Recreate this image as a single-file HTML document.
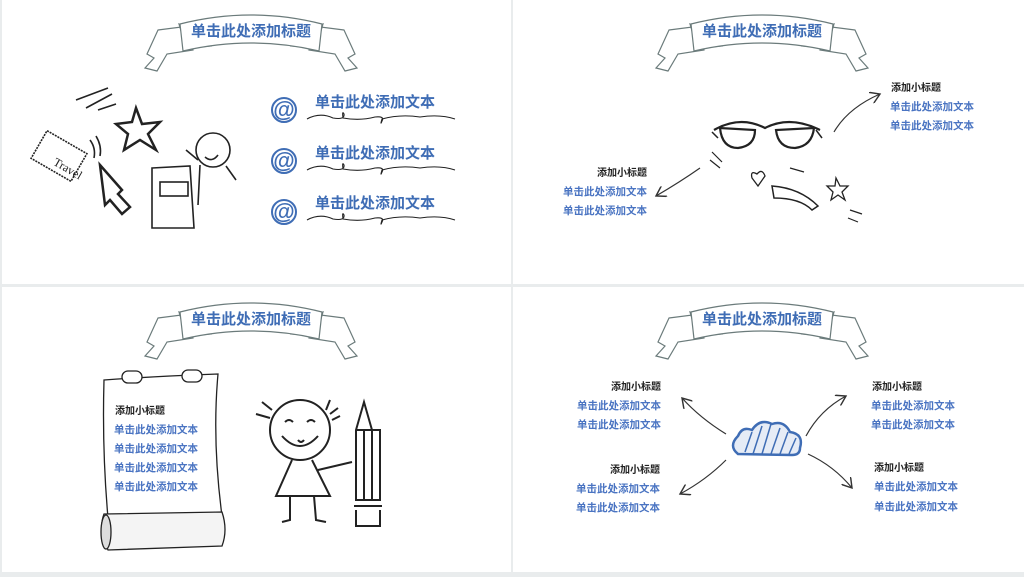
<!DOCTYPE html>
<html><head><meta charset="utf-8"><style>
html,body{margin:0;padding:0;background:#e9eced;}
svg{display:block}
.t{font-family:"Liberation Sans","Noto Sans CJK SC",sans-serif;font-weight:bold}
</style></head><body>
<svg width="1024" height="577" viewBox="0 0 1024 577" xmlns="http://www.w3.org/2000/svg">
<defs>
<g id="banner" fill="#fff" stroke="#6b7b7b" stroke-width="1.2">
  <path d="M-93,30 L-62,26 L-58,50 L-84,54 L-94,71 L-106,68 L-97,58 L-104,54 Z"/>
  <path d="M93,30 L62,26 L58,50 L84,54 L94,71 L106,68 L97,58 L104,54 Z"/>
  <path d="M-72,24 L-65,48 L-40,46 L-48,34 Z"/>
  <path d="M72,24 L65,48 L40,46 L48,34 Z"/>
  <path d="M-71,24 Q0,6 71,24 L68,51 Q0,35 -68,51 Z"/>
</g>
<g id="at"><circle r="12" fill="#fff" stroke="#3f6db5" stroke-width="2"/><text class="t" x="0" y="7" text-anchor="middle" font-size="22" fill="#3f6db5">@</text></g>
<marker id="ah" markerWidth="10" markerHeight="10" refX="8" refY="5" orient="auto"><path d="M0,0 L8,5 L0,10" fill="none" stroke="#333" stroke-width="1.2"/></marker>
</defs>
<rect x="2" y="0" width="509" height="284" fill="#fff"/>
<rect x="513" y="0" width="511" height="284" fill="#fff"/>
<rect x="2" y="287" width="509" height="285" fill="#fff"/>
<rect x="513" y="287" width="511" height="285" fill="#fff"/>

<use href="#banner" x="251" y="0"/>
<use href="#banner" x="762" y="0"/>
<use href="#banner" x="251" y="288"/>
<use href="#banner" x="762" y="288"/>
<g class="t" font-size="15" fill="#3f6db5" text-anchor="middle">
<text x="251" y="36">单击此处添加标题</text>
<text x="762" y="36">单击此处添加标题</text>
<text x="251" y="324">单击此处添加标题</text>
<text x="762" y="324">单击此处添加标题</text>
</g>

<g fill="none" stroke="#222" stroke-width="1.6">
<path d="M76,100 L108,88 M86,108 L112,94 M98,110 L116,104"/>
<path d="M136,108 L142,124 L160,122 L148,134 L156,150 L140,140 L124,150 L128,134 L116,124 L132,122 Z" stroke-width="2.5"/>
<rect x="36" y="140" width="46" height="32" transform="rotate(30 59 156)" stroke-dasharray="2 1"/>
<path d="M100,165 L122,190 L118,194 L130,207 L122,214 L110,200 L105,205 Z" stroke-width="2.5"/>
<path d="M90,140 Q96,148 94,158 M96,136 Q102,146 100,156"/>
<path d="M152,168 L190,166 L194,228 L152,228 Z"/><rect x="160" y="182" width="28" height="14"/>
<circle cx="213" cy="150" r="17"/><path d="M205,157 Q212,163 218,155"/>
<path d="M200,165 L198,205 M226,166 L236,180 M198,160 L186,150"/>
</g>
<text x="55" y="165" font-family="Liberation Serif" font-size="12" transform="rotate(30 55 160)" fill="#222">Travel</text>
<use href="#at" x="284" y="110"/><use href="#at" x="284" y="161"/><use href="#at" x="284" y="212"/>
<g class="t" font-size="15" fill="#3f6db5">
<text x="315" y="107">单击此处添加文本</text>
<text x="315" y="158">单击此处添加文本</text>
<text x="315" y="208">单击此处添加文本</text>
</g>
<g fill="none" stroke="#222" stroke-width="1.1">
<path id="w1" d="M307,119 Q320,112 333,118 Q345,120 344,114 Q342,110 343,118 Q360,121 375,117 Q385,116 382,121 Q380,126 382,119 Q400,114 420,117 Q440,114 455,119"/>
<use href="#w1" y="51"/><use href="#w1" y="101"/>
</g>

<g fill="none" stroke="#222" stroke-width="2.2">
<path d="M714,130 Q740,115 765,128 Q790,115 820,130" />
<path d="M720,128 Q722,148 738,148 Q755,146 755,130 Z M776,130 Q778,148 795,148 Q812,146 814,128 Z"/>
<path d="M712,132 L718,138 M816,130 L822,138" stroke-width="1.5"/>
<path d="M752,178 Q750,170 757,174 Q762,168 765,176 L758,186 Z" stroke-width="1.3"/>
<path d="M772,186 Q800,188 818,206 L812,210 Q800,198 774,198 Z" stroke-width="1.5"/>
<path d="M836,178 L840,186 L848,186 L842,192 L845,200 L838,195 L831,200 L833,192 L827,186 L835,186 Z" stroke-width="1.3"/>
<path d="M712,152 L722,162 M710,160 L720,168 M850,210 L862,214 M848,218 L858,222 M790,168 L804,172" stroke-width="1.2"/>
</g>
<g fill="none" stroke="#333" stroke-width="1.2" marker-end="url(#ah)">
<path d="M700,168 Q680,182 656,196"/>
<path d="M834,132 Q848,108 880,94"/>
</g>
<g class="t">
<text x="647" y="176" font-size="10" fill="#222" text-anchor="end">添加小标题</text>
<text x="647" y="195" font-size="10.5" fill="#4a74c2" text-anchor="end">单击此处添加文本</text>
<text x="647" y="214" font-size="10.5" fill="#4a74c2" text-anchor="end">单击此处添加文本</text>
<text x="891" y="91" font-size="10" fill="#222">添加小标题</text>
<text x="890" y="110" font-size="10.5" fill="#4a74c2">单击此处添加文本</text>
<text x="890" y="129" font-size="10.5" fill="#4a74c2">单击此处添加文本</text>
</g>

<g fill="none" stroke="#222" stroke-width="1.3">
<path d="M104,380 Q160,376 218,374 Q212,440 222,516 L108,518 Q102,450 104,380 Z" fill="#fff"/>
<rect x="122" y="371" width="20" height="12" rx="6" fill="#fff"/>
<rect x="182" y="370" width="20" height="12" rx="6" fill="#fff"/>
<path d="M104,514 L222,512 Q228,530 222,546 L108,550 Q98,530 104,514 Z" fill="#f4f4f4"/>
<ellipse cx="106" cy="532" rx="5" ry="17" fill="#ddd"/>
<circle cx="300" cy="430" r="30" stroke-width="2"/>
<path d="M282,436 Q300,456 318,436 M285,422 Q289,418 293,422 M307,422 Q311,418 315,422 M298,440 Q301,444 304,440" stroke-width="2"/>
<path d="M256,414 L270,418 M262,402 L272,410 M330,400 L326,410 M338,408 L330,414 M340,416 L332,420" stroke-width="2"/>
<path d="M292,460 L276,496 L330,496 L312,460 M290,496 L290,520 L282,522 M314,496 L316,520 L326,522 M318,470 Q335,466 352,462" stroke-width="2"/>
<path d="M356,430 L364,402 L372,430 L380,430 L380,500 L356,500 Z M356,430 L380,430 M364,430 L364,500 M372,430 L372,500 M354,506 L382,506 M356,510 L356,526 L380,526 L380,510" stroke-width="2"/>
</g>
<g class="t" font-size="10.5">
<text x="115" y="414" font-size="10" fill="#222">添加小标题</text>
<text x="114" y="433" fill="#4a74c2">单击此处添加文本</text>
<text x="114" y="452" fill="#4a74c2">单击此处添加文本</text>
<text x="114" y="471" fill="#4a74c2">单击此处添加文本</text>
<text x="114" y="490" fill="#4a74c2">单击此处添加文本</text>
</g>

<path d="M738,454 Q728,446 738,436 Q742,426 752,430 Q760,418 772,424 Q784,420 790,432 Q804,434 800,448 Q800,455 792,455 Z" fill="#e6ecf6" stroke="#3f6db5" stroke-width="2.5"/>
<g stroke="#3f6db5" stroke-width="1.5"><path d="M745,452 L752,432 M753,454 L762,426 M762,454 L771,424 M771,454 L780,428 M780,454 L788,432 M789,454 L796,438"/></g>
<g fill="none" stroke="#333" stroke-width="1.2" marker-end="url(#ah)">
<path d="M726,434 Q700,418 682,398"/>
<path d="M726,460 Q706,480 680,494"/>
<path d="M806,436 Q820,410 846,396"/>
<path d="M808,454 Q834,466 852,488"/>
</g>
<g class="t" font-size="10.5">
<text x="661" y="390" font-size="10" fill="#222" text-anchor="end">添加小标题</text>
<text x="661" y="409" fill="#4a74c2" text-anchor="end">单击此处添加文本</text>
<text x="661" y="428" fill="#4a74c2" text-anchor="end">单击此处添加文本</text>
<text x="660" y="473" font-size="10" fill="#222" text-anchor="end">添加小标题</text>
<text x="660" y="492" fill="#4a74c2" text-anchor="end">单击此处添加文本</text>
<text x="660" y="511" fill="#4a74c2" text-anchor="end">单击此处添加文本</text>
<text x="872" y="390" font-size="10" fill="#222">添加小标题</text>
<text x="871" y="409" fill="#4a74c2">单击此处添加文本</text>
<text x="871" y="428" fill="#4a74c2">单击此处添加文本</text>
<text x="874" y="471" font-size="10" fill="#222">添加小标题</text>
<text x="874" y="490" fill="#4a74c2">单击此处添加文本</text>
<text x="874" y="510" fill="#4a74c2">单击此处添加文本</text>
</g>
</svg>
</body></html>
